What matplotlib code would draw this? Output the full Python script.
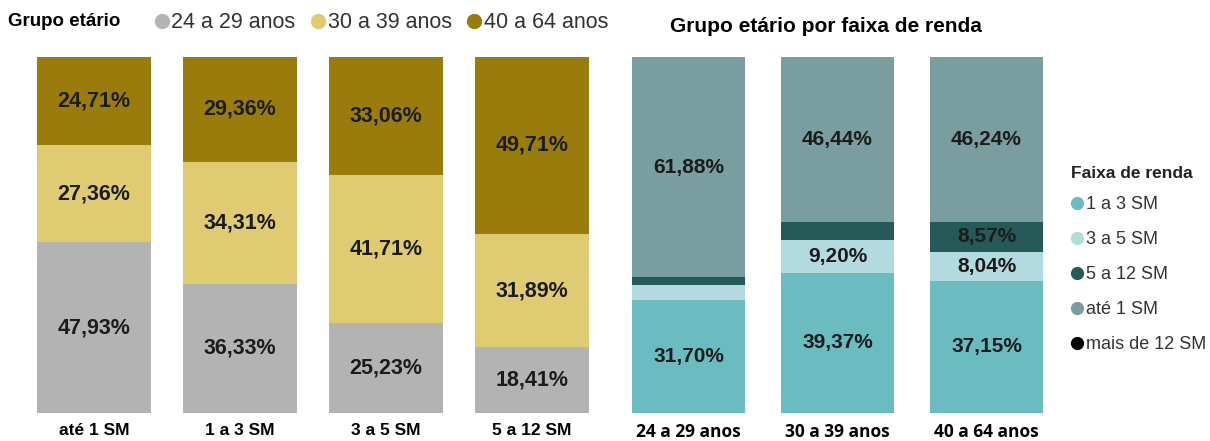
import matplotlib.pyplot as plt
from matplotlib.lines import Line2D

plt.rcParams['font.family'] = ['Liberation Sans', 'DejaVu Sans']

# painel esquerdo: faixa de renda x grupo etario
faixas = ['até 1 SM', '1 a 3 SM', '3 a 5 SM', '5 a 12 SM']
g24_29 = [47.93, 36.33, 25.23, 18.41]
g30_39 = [27.36, 34.31, 41.71, 31.89]
g40_64 = [24.71, 29.36, 33.06, 49.71]

# painel direito: grupo etario x faixa de renda
grupos = ['24 a 29 anos', '30 a 39 anos', '40 a 64 anos']
r1_3 = [31.70, 39.37, 37.15]
r3_5 = [4.20, 9.20, 8.04]
r5_12 = [2.22, 4.99, 8.57]
r_mais12 = [0.0, 0.0, 0.0]
r_ate1 = [61.88, 46.44, 46.24]

cor_idade = ['#b3b3b3', '#dfcb72', '#9a7c0c']
cor_renda = ['#6bbcc1', '#b3dadf', '#255a59', '#7a9e9f', '#000000']
nomes_renda = ['1 a 3 SM', '3 a 5 SM', '5 a 12 SM', 'até 1 SM', 'mais de 12 SM']


def pct(v):
    return f'{v:.2f}%'.replace('.', ',')


fig = plt.figure(figsize=(12.10, 4.41), dpi=100)
ax1 = fig.add_axes([21 / 1210, 28 / 441, 584 / 1210, 356 / 441])
ax2 = fig.add_axes([614 / 1210, 28 / 441, 447 / 1210, 356 / 441])

# grafico esquerdo
base = [0] * len(faixas)
for serie, cor in zip([g24_29, g30_39, g40_64], cor_idade):
    ax1.bar(range(len(faixas)), serie, bottom=base, width=0.775, color=cor)
    for i, v in enumerate(serie):
        ax1.text(i, base[i] + v / 2, pct(v), ha='center', va='center',
                 fontsize=15.5, fontweight='bold', color='#1c1c1c')
    base = [b + v for b, v in zip(base, serie)]

ax1.set_xlim(-0.5, 3.5)
ax1.set_ylim(0, 100)
ax1.set_xticks(range(len(faixas)))
ax1.set_xticklabels(faixas, fontsize=12.5, fontweight='bold')

# grafico direito
base = [0] * len(grupos)
for serie, cor in zip([r1_3, r3_5, r5_12, r_mais12, r_ate1],
                      [cor_renda[0], cor_renda[1], cor_renda[2], cor_renda[4], cor_renda[3]]):
    ax2.bar(range(len(grupos)), serie, bottom=base, width=0.76, color=cor)
    for i, v in enumerate(serie):
        if v >= 8:
            ax2.text(i, base[i] + v / 2, pct(v), ha='center', va='center',
                     fontsize=15, fontweight='bold', color='#1c1c1c')
    base = [b + v for b, v in zip(base, serie)]

ax2.set_xlim(-0.5, 2.5)
ax2.set_ylim(0, 100)
ax2.set_xticks(range(len(grupos)))
ax2.set_xticklabels(grupos, fontsize=12.5, fontweight='bold', family='Open Sans')

for ax in [ax1, ax2]:
    for s in ax.spines.values():
        s.set_visible(False)
    ax.set_yticks([])
    ax.tick_params(axis='x', length=0, pad=7)

# legenda superior (grupo etario)
fig.text(8 / 1210, 1 - 22 / 441, 'Grupo etário', fontsize=13.5, fontweight='bold',
         va='center', ha='left')
h_idade = [Line2D([], [], marker='o', ls='', color=c, markersize=10) for c in cor_idade]
fig.legend(h_idade, ['24 a 29 anos', '30 a 39 anos', '40 a 64 anos'], ncol=3,
           loc='center left', bbox_to_anchor=(152 / 1210, 1 - 23 / 441), frameon=False,
           fontsize=15.5, handletextpad=0.0, columnspacing=0.6, borderaxespad=0,
           borderpad=0, handlelength=0.9, labelcolor='#333333')

# titulo direito
fig.text(826 / 1210, 1 - 27 / 441, 'Grupo etário por faixa de renda', fontsize=15,
         fontweight='bold', ha='center', va='center')

# legenda direita (faixa de renda)
fig.text(1071 / 1210, 1 - 173 / 441, 'Faixa de renda', fontsize=12.5, fontweight='bold',
         ha='left', va='center', color='#222222')
h_renda = [Line2D([], [], marker='o', ls='', color=c, markersize=8.5) for c in cor_renda]
fig.legend(h_renda, nomes_renda, loc='upper left', bbox_to_anchor=(1068 / 1210, 1 - 196 / 441),
           frameon=False, fontsize=13, handletextpad=0.0, handlelength=1.0,
           labelspacing=1.0, borderaxespad=0, borderpad=0, labelcolor='#333333')

plt.savefig('out.png', dpi=100)
